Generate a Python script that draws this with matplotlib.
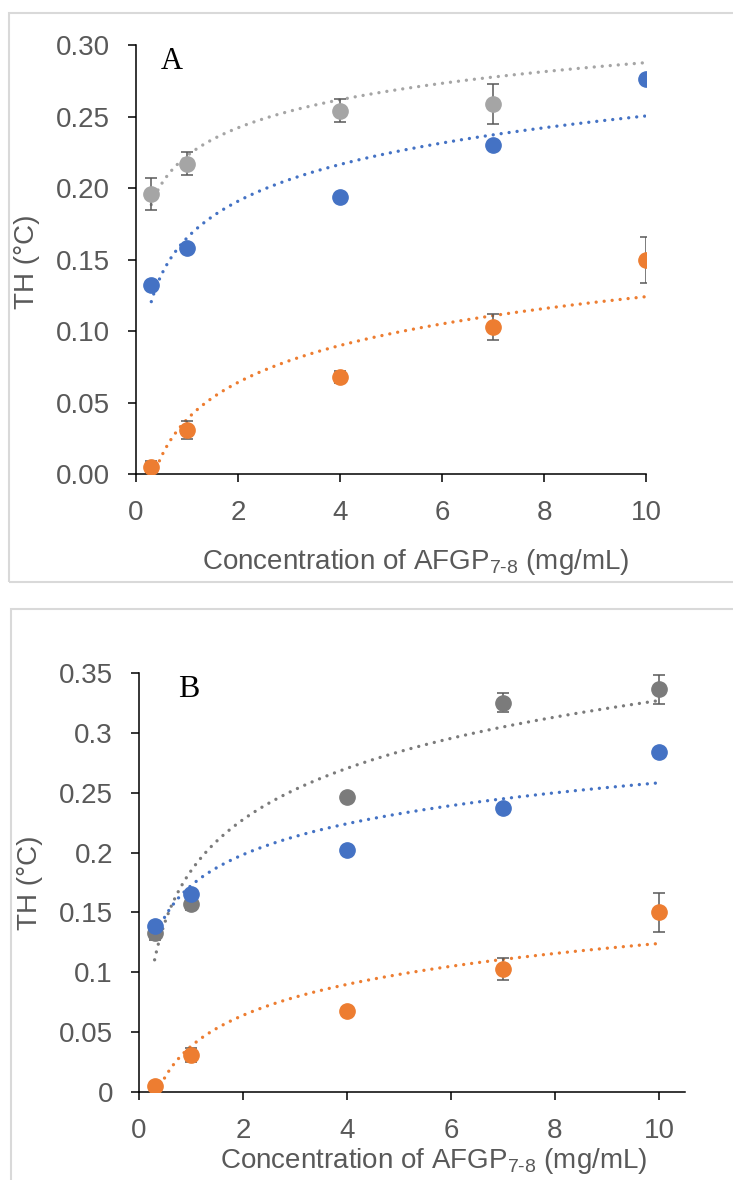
import numpy as np
import matplotlib
matplotlib.use('Agg')
import matplotlib.pyplot as plt
from matplotlib.patches import Rectangle
from matplotlib.ticker import FixedLocator, FixedFormatter

plt.rcParams['font.family'] = ['Liberation Sans', 'DejaVu Sans']
plt.rcParams['mathtext.fontset'] = 'custom'
plt.rcParams['mathtext.rm'] = 'Liberation Sans'
plt.rcParams['mathtext.it'] = 'Liberation Sans:italic'
plt.rcParams['mathtext.bf'] = 'Liberation Sans:bold'

# ---------------- data ----------------
conc = [0.3, 1, 4, 7, 10]

# Panel A
a_gray = [0.196, 0.217, 0.254, 0.259, 0.312]   # last point lies above the axis top (clipped)
a_gray_err = [0.011, 0.008, 0.008, 0.014, 0.010]
a_blue = [0.132, 0.158, 0.194, 0.230, 0.276]
a_orange = [0.005, 0.031, 0.068, 0.103, 0.150]
a_orange_err = [0.004, 0.006, 0.004, 0.009, 0.016]

# Panel B
b_gray = [0.133, 0.157, 0.246, 0.325, 0.336]
b_gray_err = [0.006, 0.005, 0.002, 0.008, 0.012]
b_blue = [0.139, 0.165, 0.202, 0.237, 0.284]
b_orange = [0.005, 0.031, 0.068, 0.103, 0.150]
b_orange_err = [0.004, 0.006, 0.003, 0.009, 0.016]

x_ticks = [0, 2, 4, 6, 8, 10]
a_yticks = [0.00, 0.05, 0.10, 0.15, 0.20, 0.25, 0.30]
a_ylabels = ['0.00', '0.05', '0.10', '0.15', '0.20', '0.25', '0.30']
b_yticks = [0, 0.05, 0.1, 0.15, 0.2, 0.25, 0.3, 0.35]
b_ylabels = ['0', '0.05', '0.1', '0.15', '0.2', '0.25', '0.3', '0.35']

BLUE = '#4472C4'
ORANGE = '#ED7D31'
LGRAY = '#A5A5A5'
DGRAY = '#7B7B7B'
ERR = '#595959'
TXT = '#595959'

W, H = 733, 1180
fig = plt.figure(figsize=(W / 100, H / 100), dpi=100)

# outer frames
fig.patches.append(Rectangle((8.5 / W, 1 - 581.7 / H), (760 - 8.5) / W, (581.7 - 13) / H,
                             transform=fig.transFigure, fill=False, ec='#D9D9D9', lw=1.5))
fig.patches.append(Rectangle((11 / W, 1 - 1200 / H), (760 - 11) / W, (1200 - 609) / H,
                             transform=fig.transFigure, fill=False, ec='#D9D9D9', lw=1.5))


def px_axes(l, r, t, b):
    return fig.add_axes([l / W, 1 - b / H, (r - l) / W, (b - t) / H])


def draw_panel(ax, series, xmax, yticks, ylabels, letter, letter_pos, letter_size):
    for y, err, color in series:
        coef = np.polyfit(np.log(conc), y, 1)
        xs = np.geomspace(min(conc), max(conc), 400)
        ax.plot(xs, coef[0] * np.log(xs) + coef[1], color=color, lw=2.4,
                ls=(0, (0.01, 2.4)), dash_capstyle='round', zorder=2)
        if err is not None:
            ax.errorbar(conc, y, yerr=err, fmt='none', ecolor=ERR, elinewidth=1.1,
                        capsize=4, capthick=1.1, zorder=2.5)
        ax.plot(conc, y, 'o', ms=11, color=color, mec=color, zorder=3)
    ax.set_xlim(0, xmax)
    ax.set_ylim(yticks[0], yticks[-1])
    ax.xaxis.set_major_locator(FixedLocator(x_ticks))
    ax.yaxis.set_major_locator(FixedLocator(yticks))
    ax.yaxis.set_major_formatter(FixedFormatter(ylabels))
    for s in ['top', 'right']:
        ax.spines[s].set_visible(False)
    for s in ['left', 'bottom']:
        ax.spines[s].set_linewidth(1.1)
        ax.spines[s].set_color('black')
    ax.tick_params(direction='out', length=5.8, width=1.1, color='black',
                   labelcolor=TXT, labelsize=20, pad=13)
    ax.text(letter_pos[0], letter_pos[1], letter, family='Liberation Serif',
            fontsize=letter_size, ha='left', va='top', color='black')


xlabel = r'Concentration of AFGP$_{\text{7-8}}$ (mg/mL)'

axA = px_axes(136, 646, 45, 474.3)
draw_panel(axA, [(a_gray, a_gray_err, LGRAY), (a_blue, None, BLUE), (a_orange, a_orange_err, ORANGE)],
           10, a_yticks, a_ylabels, 'A', (0.49, 0.2985), 22)
fig.text(27 / W, 1 - 262 / H, 'TH (°C)', rotation=90, ha='center', va='center',
         fontsize=20, color=TXT)
fig.text(415.5 / W, 1 - 562 / H, xlabel, ha='center', va='center', fontsize=20, color=TXT)

axB = px_axes(139, 685, 672.7, 1092.3)
draw_panel(axB, [(b_gray, b_gray_err, DGRAY), (b_blue, None, BLUE), (b_orange, b_orange_err, ORANGE)],
           10.5, b_yticks, b_ylabels, 'B', (0.75, 0.348), 23)
fig.text(30 / W, 1 - 883 / H, 'TH (°C)', rotation=90, ha='center', va='center',
         fontsize=20, color=TXT)
fig.text(433.5 / W, 1 - 1161 / H, xlabel, ha='center', va='center', fontsize=20, color=TXT)

fig.savefig('out.png', dpi=100)
